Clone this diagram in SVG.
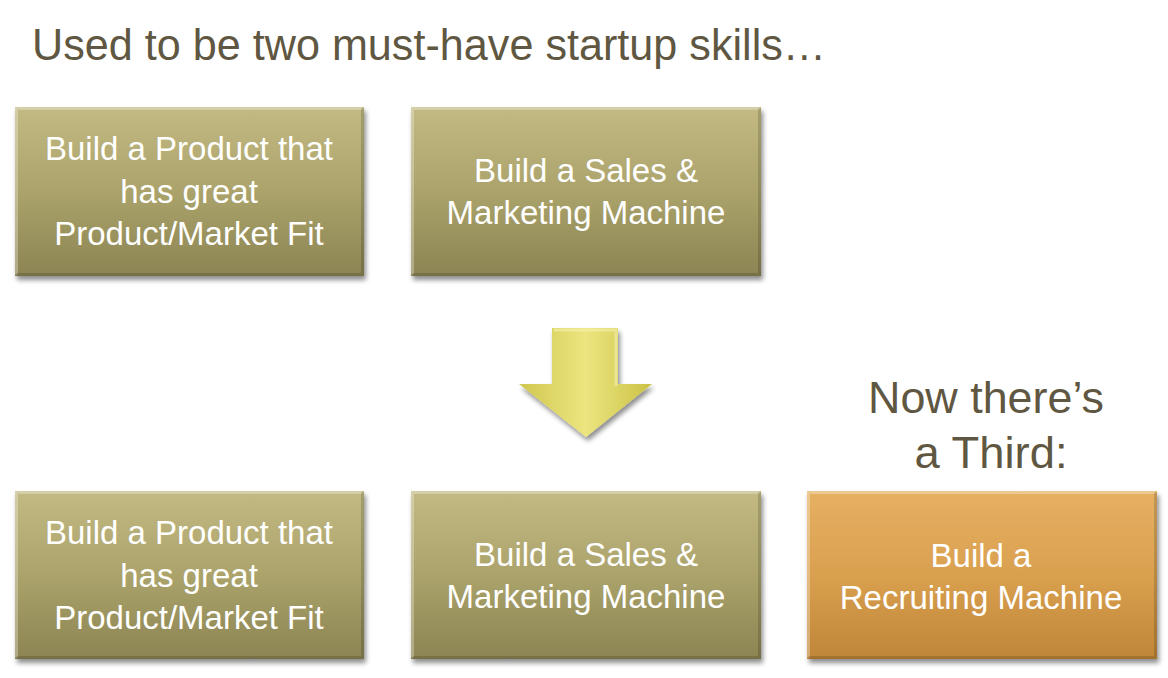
<svg xmlns="http://www.w3.org/2000/svg" width="1168" height="678" viewBox="0 0 1168 678">
<defs>
<linearGradient id="olive" x1="0" y1="0" x2="0" y2="1">
<stop offset="0" stop-color="#c2ba82"/>
<stop offset="0.5" stop-color="#aba36b"/>
<stop offset="1" stop-color="#8c8452"/>
</linearGradient>
<linearGradient id="orange" x1="0" y1="0" x2="0" y2="1">
<stop offset="0" stop-color="#e6b062"/>
<stop offset="0.5" stop-color="#d9a04f"/>
<stop offset="1" stop-color="#c08638"/>
</linearGradient>
<linearGradient id="yel" x1="0" y1="0" x2="1" y2="0">
<stop offset="0" stop-color="#cfc74e"/>
<stop offset="0.5" stop-color="#ece580"/>
<stop offset="1" stop-color="#cac245"/>
</linearGradient>
<filter id="sh" x="-5%" y="-5%" width="115%" height="120%">
<feGaussianBlur in="SourceAlpha" stdDeviation="2.5"/>
<feOffset dx="2" dy="4" result="b"/>
<feComponentTransfer><feFuncA type="linear" slope="0.45"/></feComponentTransfer>
<feMerge><feMergeNode/><feMergeNode in="SourceGraphic"/></feMerge>
</filter>
</defs>
<style>
.t{font-family:"Liberation Sans",Arial,sans-serif;font-size:33px;fill:#ffffff;text-anchor:middle}
.h{font-family:"Liberation Sans",Arial,sans-serif;font-size:44px;fill:#5f5741}
.bev{fill:none;stroke:#ffffff;stroke-opacity:0.3;stroke-width:3}
.bevd{fill:none;stroke:#000000;stroke-opacity:0.15;stroke-width:3}
</style>
<text class="h" x="32" y="60" textLength="794" lengthAdjust="spacingAndGlyphs">Used to be two must-have startup skills…</text>
<g id="top1">
<rect x="15" y="107" width="349" height="169" fill="url(#olive)" filter="url(#sh)"/>
<path class="bev" d="M16.5 274.5 V108.5 H362.5"/>
<path class="bevd" d="M16.5 274.5 H362.5 V108.5"/>
<text class="t" x="189" y="160">Build a Product that</text>
<text class="t" x="189" y="203">has great</text>
<text class="t" x="189" y="245">Product/Market Fit</text>
</g>
<g id="top2">
<rect x="411" y="107" width="350" height="169" fill="url(#olive)" filter="url(#sh)"/>
<path class="bev" d="M412.5 274.5 V108.5 H759.5"/>
<path class="bevd" d="M412.5 274.5 H759.5 V108.5"/>
<text class="t" x="586" y="182">Build a Sales &amp;</text>
<text class="t" x="586" y="224">Marketing Machine</text>
</g>
<g id="connectors">
<g id="arrow" filter="url(#sh)">
<path d="M552 328 H618 V384 H652 L586 437 L519 384 H552 Z" fill="url(#yel)"/>
<path d="M554 330 H616 V386" fill="none" stroke="#f6f2b0" stroke-opacity="0.6" stroke-width="3"/>
</g>
</g>
<text class="h" x="986" y="413" text-anchor="middle" textLength="236" lengthAdjust="spacingAndGlyphs">Now there’s</text>
<text class="h" x="991" y="468" text-anchor="middle" textLength="153" lengthAdjust="spacingAndGlyphs">a Third:</text>
<g id="bot1">
<rect x="15" y="491" width="349" height="168" fill="url(#olive)" filter="url(#sh)"/>
<path class="bev" d="M16.5 657.5 V492.5 H362.5"/>
<path class="bevd" d="M16.5 657.5 H362.5 V492.5"/>
<text class="t" x="189" y="544">Build a Product that</text>
<text class="t" x="189" y="587">has great</text>
<text class="t" x="189" y="629">Product/Market Fit</text>
</g>
<g id="bot2">
<rect x="411" y="491" width="350" height="168" fill="url(#olive)" filter="url(#sh)"/>
<path class="bev" d="M412.5 657.5 V492.5 H759.5"/>
<path class="bevd" d="M412.5 657.5 H759.5 V492.5"/>
<text class="t" x="586" y="566">Build a Sales &amp;</text>
<text class="t" x="586" y="608">Marketing Machine</text>
</g>
<g id="bot3">
<rect x="807" y="491" width="350" height="168" fill="url(#orange)" filter="url(#sh)"/>
<path class="bev" d="M808.5 657.5 V492.5 H1155.5"/>
<path class="bevd" d="M808.5 657.5 H1155.5 V492.5"/>
<text class="t" x="981" y="567">Build a</text>
<text class="t" x="981" y="609">Recruiting Machine</text>
</g>
</svg>
